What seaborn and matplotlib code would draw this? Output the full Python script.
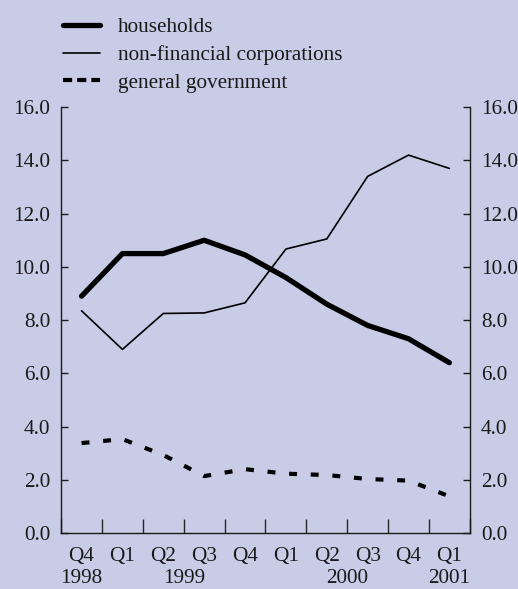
import pandas as pd
import seaborn as sns
import matplotlib.pyplot as plt
from matplotlib.transforms import blended_transform_factory


bg = '#c8cce6'

quarters = ['Q4', 'Q1', 'Q2', 'Q3', 'Q4', 'Q1', 'Q2', 'Q3', 'Q4', 'Q1']
years = ['1998', '1999', '2000', '2001']
year_pos = [0, 2.5, 6.5, 9]

households = [8.9, 10.5, 10.5, 11.0, 10.45, 9.6, 8.6, 7.8, 7.3, 6.4]
non_financial = [8.35, 6.9, 8.25, 8.27, 8.65, 10.67, 11.05, 13.4, 14.2, 13.7]
government = [3.38, 3.53, 2.93, 2.14, 2.4, 2.23, 2.18, 2.03, 1.97, 1.38]


sns.set_theme(style='ticks')
plt.rcParams['font.family'] = ['Liberation Serif', 'DejaVu Serif']
fs = 15.3
plt.rcParams['font.size'] = fs
plt.rcParams['text.color'] = '#1a1a1a'

fig = plt.figure(figsize=(5.18, 5.89), dpi=100, facecolor=bg)
ax = fig.add_axes([0.118, 0.095, 0.789, 0.723], facecolor=bg)

x = list(range(len(quarters)))

sns.lineplot(x=x, y=households, color='black', linewidth=3.8,
             label='households', ax=ax)
sns.lineplot(x=x, y=non_financial, color='black', linewidth=1.2,
             label='non-financial corporations', ax=ax)
sns.lineplot(x=x, y=government, color='black', linewidth=3.0,
             label='general government', ax=ax)
ax.lines[2].set_linestyle((0, (1.9, 3.3)))

ax.set_xlim(-0.5, 9.5)
ax.set_ylim(0, 16)

ax.set_yticks(range(0, 17, 2))
ax.set_yticklabels(['{:.1f}'.format(v) for v in range(0, 17, 2)])
ax.tick_params(axis='y', direction='in', length=5, width=1, left=True,
               right=True, labelleft=True, labelright=True, pad=8,
               labelsize=fs, colors='#1a1a1a')

ax.set_xticks([i - 0.5 for i in range(11)])
ax.set_xticklabels([])
ax.set_xticks(x, minor=True)
ax.set_xticklabels(quarters, minor=True)
ax.tick_params(axis='x', which='major', direction='in', length=10, width=1)
ax.tick_params(axis='x', which='minor', length=0, pad=10, labelsize=fs,
               colors='#1a1a1a')

trans = blended_transform_factory(ax.transData, ax.transAxes)
for label, pos in zip(years, year_pos):
    ax.text(pos, -0.107, label, transform=trans, ha='center', va='center',
            fontsize=fs)

for side in ['left', 'right', 'bottom']:
    ax.spines[side].set_color('#1a1a1a')
    ax.spines[side].set_linewidth(1)
ax.spines['top'].set_visible(False)

ax.set_xlabel('')
ax.set_ylabel('')

leg = ax.legend(loc='upper left', bbox_to_anchor=(0.09, 0.998),
                bbox_transform=fig.transFigure, frameon=False, fontsize=fs,
                handlelength=1.75, handletextpad=0.85, labelspacing=0.38,
                borderpad=0.25)
leg.get_lines()[2].set_linestyle((0, (2.2, 1.2)))

fig.savefig('out.png', dpi=100, facecolor=bg)
